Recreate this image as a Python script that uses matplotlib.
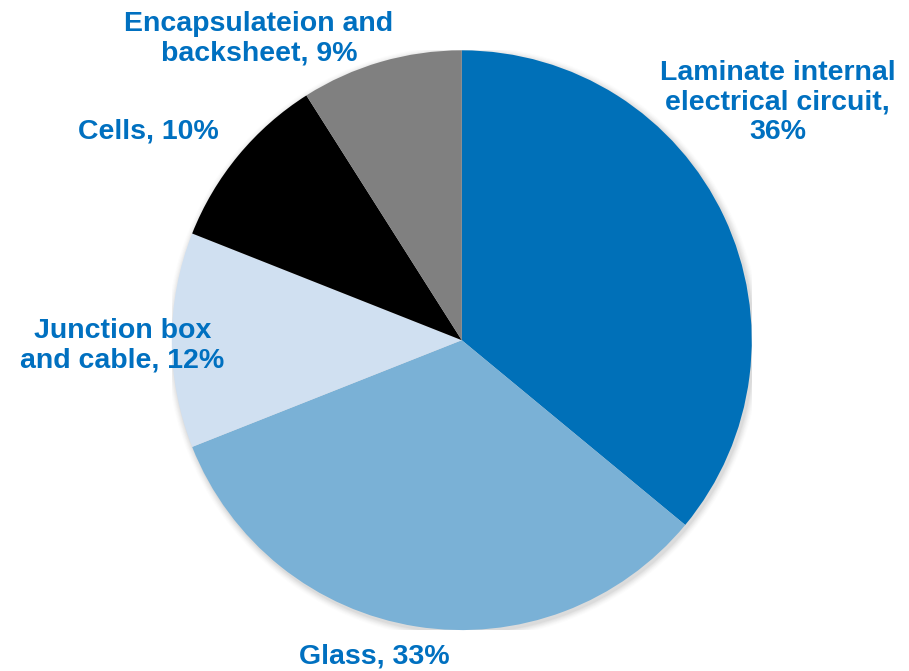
import numpy as np
import matplotlib.pyplot as plt
from matplotlib.patches import Circle

# cost shares of a PV module, clockwise from 12 o'clock
labels = ['Laminate internal\nelectrical circuit,\n36%', 'Glass, 33%',
          'Junction box\nand cable, 12%', 'Cells, 10%',
          'Encapsulateion and\nbacksheet, 9%']
shares = [36, 33, 12, 10, 9]
colors = ['#0070B8', '#7AB1D6', '#D0E0F1', '#000000', '#808080']

# label anchor points in units of the pie radius
label_x = [1.09, -0.30, -1.17, -1.08, -0.70]
label_y = [0.82, -1.09, -0.02, 0.72, 1.04]

plt.rcParams['font.family'] = ['Liberation Sans', 'DejaVu Sans']

fig = plt.figure(figsize=(9.09, 6.71), dpi=100)
ax = fig.add_axes([0.189, 0.061, 0.638, 0.864])

# soft drop shadow under the pie
for i, a in enumerate(np.linspace(0.05, 0.012, 6)):
    ax.add_patch(Circle((0.006, -0.008), 1.0 + 0.004 * (i + 1),
                        color='#404040', alpha=a, lw=0, zorder=0))

ax.pie(shares, colors=colors, startangle=90, counterclock=False,
       radius=1.0, wedgeprops={'linewidth': 0, 'zorder': 1})

for txt, x, y in zip(labels, label_x, label_y):
    ax.text(x, y, txt, ha='center', va='center', fontsize=20.5,
            fontweight='bold', color='#0070C0', linespacing=1.17)

ax.set_xlim(-1, 1)
ax.set_ylim(-1, 1)
ax.set_aspect('auto')
ax.axis('off')

plt.savefig('out.png', dpi=100)
